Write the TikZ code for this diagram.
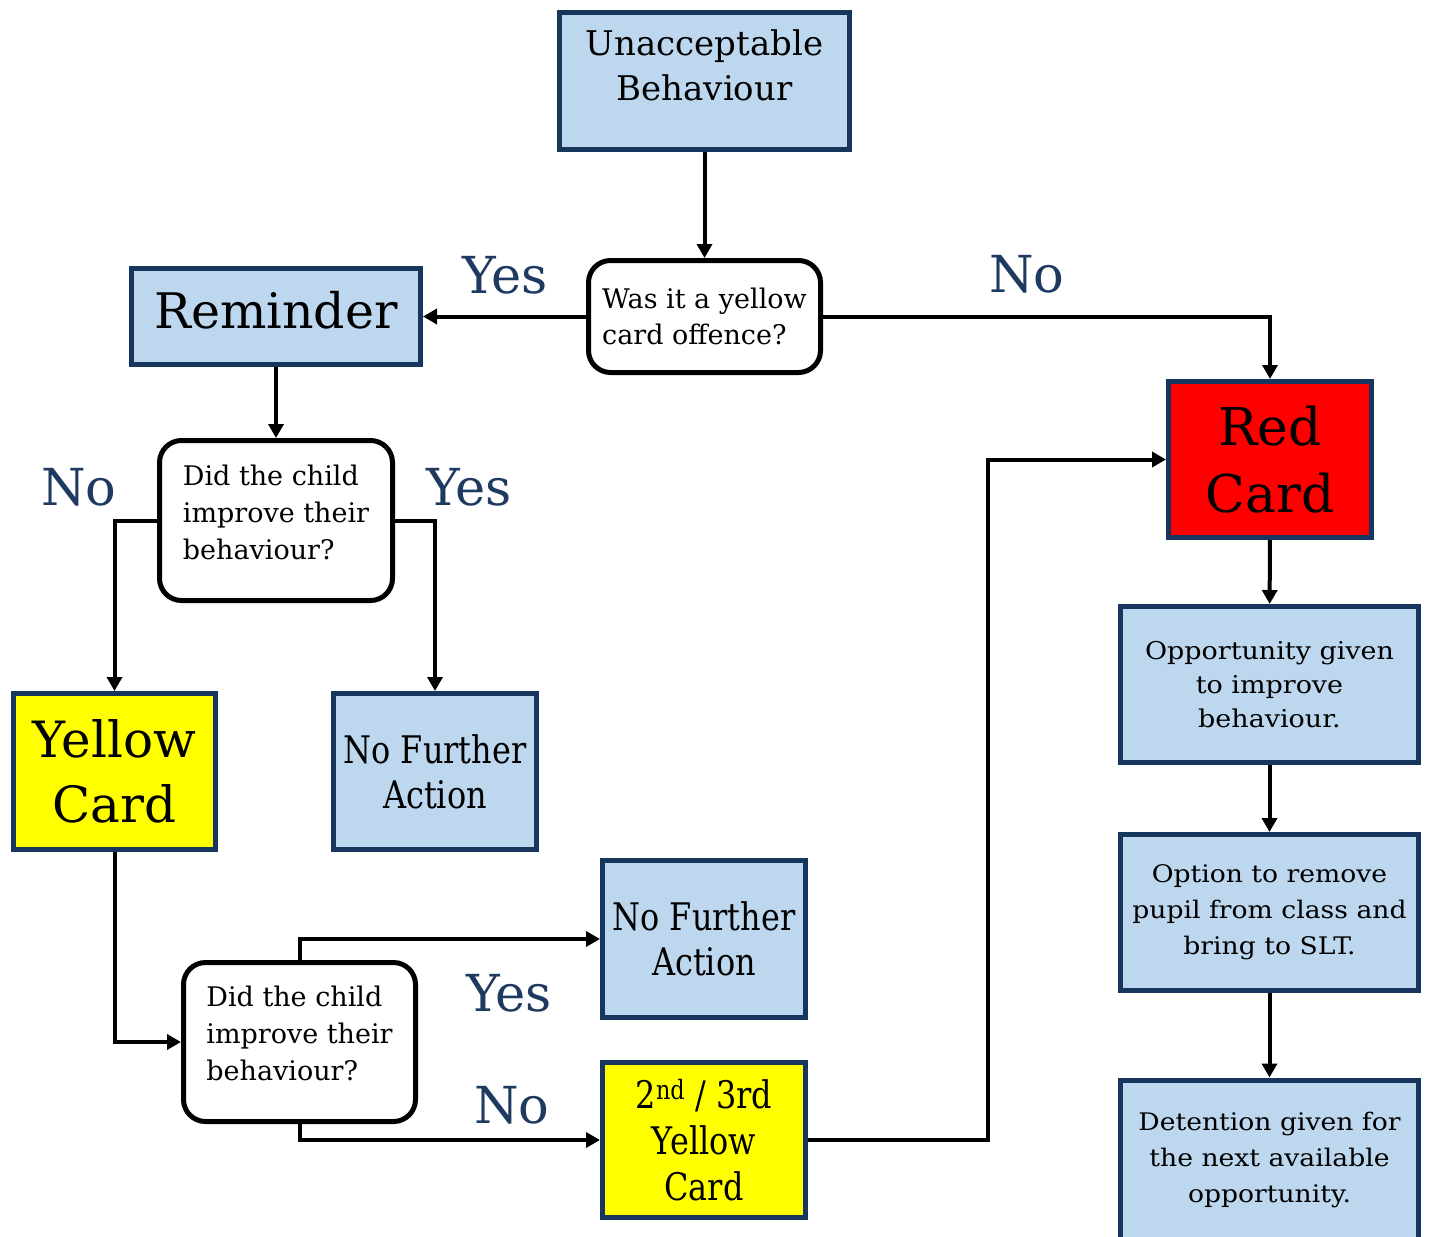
\documentclass[tikz,border=0pt]{standalone}
\usepackage{fontspec}
\setmainfont{DejaVu Serif}
\newfontfamily\condfont[FakeStretch=0.84]{DejaVu Serif}
\newfontfamily\widefont[FakeStretch=1.1]{DejaVu Serif}
\usetikzlibrary{arrows.meta}
\definecolor{boxblue}{HTML}{BDD7EE}
\definecolor{navy}{HTML}{17365D}
\definecolor{lblnavy}{HTML}{1F3A60}
\definecolor{cardyellow}{HTML}{FFFF00}
\definecolor{cardred}{HTML}{FF0000}

\begin{document}
\begin{tikzpicture}[x=1pt, y=-1pt,
    bluebox/.style={draw=navy, line width=5pt, fill=boxblue, align=center, inner sep=0pt},
    yellowbox/.style={bluebox, fill=cardyellow},
    redbox/.style={bluebox, fill=cardred},
    query/.style={draw=black, line width=5pt, fill=white, rounded corners=22pt, align=left, inner sep=0pt},
    flow/.style={-{Triangle[length=14pt, width=15pt]}, line width=4pt},
    answer/.style={text=lblnavy, font=\fontsize{51}{51}\selectfont, inner sep=0pt}]
  \clip (0,0) rectangle (1431,1236);
  % Start and first question
  \node[bluebox, minimum width=290pt, minimum height=137pt, font=\fontsize{34}{45}\selectfont]
    (ub) at (704.5,81) {Unacceptable\\Behaviour\\[-14pt]};
  \node[query, minimum width=232pt, minimum height=112pt, font=\fontsize{27}{36}\selectfont]
    (q1) at (704.5,316.5) {Was it a yellow\\card offence?};
  % Reminder branch
  \node[bluebox, minimum width=289pt, minimum height=96pt, text depth=14pt, font=\fontsize{49}{49}\selectfont]
    (rem) at (276,316.5) {Reminder};
  \node[query, minimum width=233pt, minimum height=160pt, font=\fontsize{27}{37}\selectfont]
    (q2) at (276,520.5) {Did the child\\improve their\\behaviour?\\[-20pt]};
  \node[yellowbox, minimum width=202pt, minimum height=156pt, font=\fontsize{50}{65}\selectfont]
    (yc) at (114.5,771.5) {Yellow\\Card};
  \node[bluebox, minimum width=203pt, minimum height=156pt, font=\condfont\fontsize{38}{45}\selectfont]
    (nfa1) at (435,771.5) {No Further\\Action};
  % After the yellow card
  \node[query, minimum width=232pt, minimum height=159pt, font=\fontsize{27}{37}\selectfont]
    (q3) at (299.5,1042) {Did the child\\improve their\\behaviour?\\[-20pt]};
  \node[bluebox, minimum width=203pt, minimum height=157pt, font=\condfont\fontsize{38}{45}\selectfont]
    (nfa2) at (704,939) {No Further\\Action};
  \node[yellowbox, minimum width=203pt, minimum height=155pt, font=\condfont\fontsize{38}{46}\selectfont]
    (yc2) at (704,1140) {2\textsuperscript{nd} / 3rd\\Yellow\\Card};
  % Red card column
  \node[redbox, minimum width=203pt, minimum height=156pt, font=\fontsize{52}{67}\selectfont]
    (rc) at (1270,459.5) {Red\\Card};
  \node[bluebox, minimum width=298pt, minimum height=156pt, font=\widefont\fontsize{24.5}{34}\selectfont]
    (opp) at (1269.5,684.5) {Opportunity given\\to improve\\behaviour.};
  \node[bluebox, minimum width=298pt, minimum height=156pt, font=\widefont\fontsize{24.2}{36}\selectfont]
    (opt) at (1269.5,912.5) {Option to remove\\pupil from class and\\bring to SLT.};
  \node[bluebox, minimum width=298pt, minimum height=165pt, font=\widefont\fontsize{24.2}{36}\selectfont]
    (det) at (1269.5,1162.5) {Detention given for\\the next available\\opportunity.\\[-25pt]};
  \coordinate (jog) at (988,0);
  % Connectors
  \draw[flow] (ub) -- (q1);
  \draw[flow] (q1) -- (rem);
  \draw[flow] (q1.east) -| (rc.north);
  \draw[flow] (rem) -- (q2);
  \draw[flow] (q2.west) -| (yc.north);
  \draw[flow] (q2.east) -| (nfa1.north);
  \draw[flow] (yc.south) |- (q3.west);
  \draw[flow] (q3.north) |- (nfa2.west);
  \draw[flow] (q3.south) |- (yc2.west);
  \draw[flow] (yc2.east) -- (yc2.east -| jog) |- (rc.west);
  \draw[flow] (rc) -- (opp);
  \draw[flow] (opp) -- (opt);
  \draw[flow] (opt) -- (det);
  % Yes / No labels
  \node[answer] (yes1) at (505,275) {Yes};
  \node[answer] (no1) at (1027,274) {No};
  \node[answer] (no2) at (79,487) {No};
  \node[answer] (yes2) at (469,487) {Yes};
  \node[answer] (yes3) at (509,993) {Yes};
  \node[answer] (no3) at (512,1105) {No};
\end{tikzpicture}
\end{document}
